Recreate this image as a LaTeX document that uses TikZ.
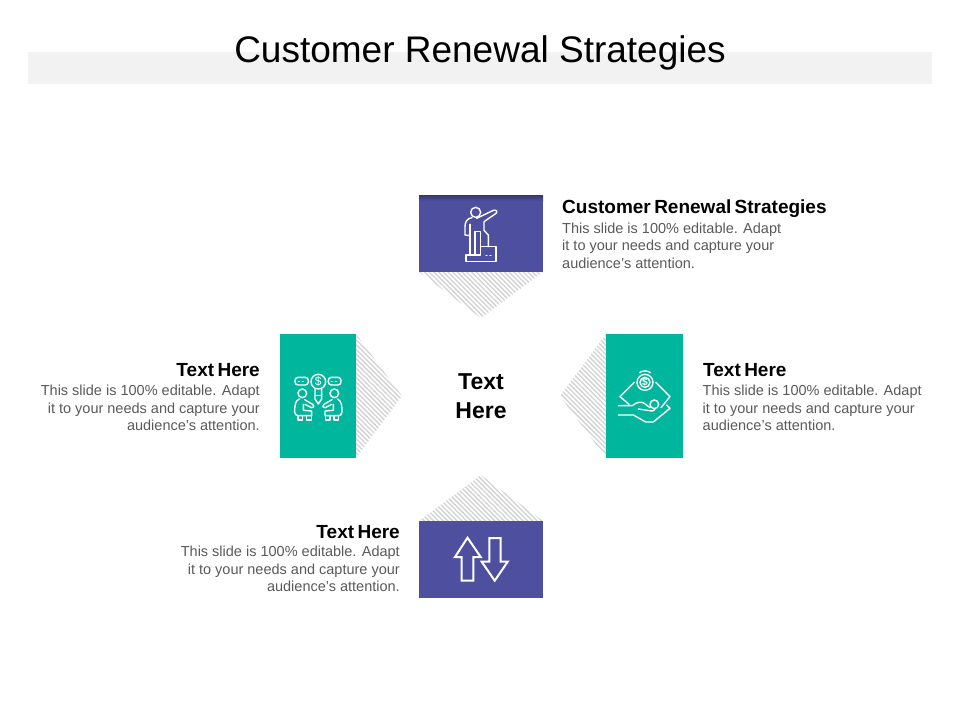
\documentclass[tikz,border=0pt]{standalone}
\usepackage{fontspec}
\setmainfont{Liberation Sans}
\usetikzlibrary{positioning}
\definecolor{bandgray}{HTML}{F2F2F2}
\definecolor{boxblue}{HTML}{4E4F9F}
\definecolor{boxgreen}{HTML}{00B69D}
\definecolor{hatchgray}{HTML}{D2D2D2}
\definecolor{bodygray}{HTML}{595959}
\newcommand{\headfont}{\fontsize{19}{21}\selectfont\bfseries\spaceskip 3.4pt\relax}
\newcommand{\seatedman}{%
    \draw[iconline] (97,205) circle (13);
    \draw[iconline] (88,222)..controls (76,228) and (74,238)..(74,262)..controls (74,270) and (80,272)..(90,272)--(125,272)--(125,258)--(100,256)--(100,238);
    \draw[iconline] (104,224)--(128,238)..controls (134,244) and (130,250)..(124,248)--(105,238);
    \draw[iconline] (84,272)--(84,285)--(98,285)--(98,272);
    \draw[iconline] (110,272)--(110,285)--(124,285)--(124,272);
}
\tikzset{
    headtext/.style={inner sep=0pt,font=\headfont},
    bodytext/.style={inner sep=0pt,text=bodygray,font=\fontsize{14.5}{17.6}\selectfont},
    iconline/.style={draw=white,line width=1.4pt,line join=round,line cap=round},
    arrowline/.style={draw=white,line width=2pt,line join=miter},
    hatchline/.style={draw=hatchgray,line width=1.3pt},
    zoomed/.style={x=0.3333pt,y=-0.3333pt}
}
\begin{document}
\begin{tikzpicture}[x=1pt,y=-1pt]
    \useasboundingbox (0,0) rectangle (960,720);
    \fill[bandgray] (28,52) rectangle (932,84);
    \node (title) at (480,52.5) {\fontsize{37}{40}\selectfont Customer Renewal Strategies};
    % hatched triangles
    \foreach \ax/\ay/\bx/\by/\cx/\cy in {419/272/543/272/481/318,356/334/356/458/402/396,606/334/606/458/560/396,419/521/543/521/481/475}{
        \begin{scope}
            \clip (\ax,\ay)--(\bx,\by)--(\cx,\cy)--cycle;
            \foreach \i in {0,...,170}
                \draw[hatchline] (\i*4.7-100,100)--(\i*4.7+500,700);
        \end{scope}
    }
    % boxes
    \fill[boxblue] (419,195) rectangle (543,272);
    \shade[top color=boxblue!70!black,bottom color=boxblue] (419,195) rectangle (543,201);
    \fill[boxgreen] (280,334) rectangle (356,458);
    \fill[boxgreen] (606,334) rectangle (683,458);
    \fill[boxblue] (419,521) rectangle (543,598);
    % center
    \node[align=center,font=\fontsize{23}{29}\selectfont\bfseries] (center) at (481,396) {Text\\Here};
    % labels
    \node[headtext,anchor=north west] (head1) at (562,200) {Customer Renewal Strategies};
    \node[bodytext,align=left,anchor=north west] (body1) at (562,222.5) {This slide is 100\% editable. Adapt\\it to your needs and capture your\\audience's attention.};
    \node[headtext,anchor=north west] (head2) at (703,363) {Text Here};
    \node[bodytext,align=left,anchor=north west] (body2) at (702.5,385) {This slide is 100\% editable. Adapt\\it to your needs and capture your\\audience's attention.};
    \node[headtext,anchor=north east] (head3) at (260,363) {Text Here};
    \node[bodytext,align=right,anchor=north east] (body3) at (260,385) {This slide is 100\% editable. Adapt\\it to your needs and capture your\\audience's attention.};
    \node[headtext,anchor=north east] (head4) at (400,525) {Text Here};
    \node[bodytext,align=right,anchor=north east] (body4) at (400,546) {This slide is 100\% editable. Adapt\\it to your needs and capture your\\audience's attention.};
    % climbing man
    \begin{scope}[shift={(410,185)},zoomed]
        \draw[iconline] (197,82) circle (15);
        \draw[iconline] (200,100)--(250,76)..controls (262,72) and (264,84)..(254,88)--(222,110)--(222,136)--(235,150)--(235,185);
        \draw[iconline] (186,98)..controls (170,100) and (165,112)..(165,125)--(165,150)--(180,152);
        \draw[iconline] (180,118)--(180,210);
        \draw[iconline] (195,140)--(195,210);
        \draw[iconline] (195,140)--(212,140)--(212,185);
        \draw[iconline] (212,185)--(258,185)--(258,229)--(168,229)--(168,210)--(212,210)--(212,185);
        \draw[iconline,dash pattern=on 1pt off 3pt] (228,212)--(248,212);
    \end{scope}
    % two men with a bulb
    \begin{scope}[shift={(270,325)},zoomed]
        \draw[iconline,rounded corners=3pt] (75,157) rectangle (115,180);
        \draw[iconline,rounded corners=3pt] (175,157) rectangle (213,180);
        \draw[iconline,dash pattern=on 1pt off 3pt] (85,169)--(106,169);
        \draw[iconline,dash pattern=on 1pt off 3pt] (184,169)--(205,169);
        \draw[iconline] (145,170) circle (22);
        \node[text=white,inner sep=0pt,font=\fontsize{12}{12}\selectfont] (dollarbulb) at (145,170) {\$};
        \draw[iconline] (135,192)--(135,222)--(145,237)--(155,222)--(155,192);
        \draw[iconline] (135,212)--(155,212);
        \seatedman
        \begin{scope}[xshift=96.67pt,xscale=-1]
            \seatedman
        \end{scope}
    \end{scope}
    % hand with money
    \begin{scope}[shift={(555,325)},zoomed]
        \draw[iconline] (270,172) circle (24);
        \draw[iconline] (270,172) circle (15);
        \node[text=white,inner sep=0pt,font=\fontsize{10}{10}\selectfont\bfseries] (dollarcoin) at (270,172) {\$};
        \draw[iconline] (254,143)..controls (262,136) and (278,136)..(286,143);
        \draw[iconline] (238,172)--(195,215)--(222,238);
        \draw[iconline] (302,172)--(345,215)--(318,248);
        \draw[iconline] (298,238) circle (13);
        \draw[iconline] (190,242)--(232,242)..controls (245,230) and (262,228)..(272,238)--(285,248);
        \draw[iconline] (250,252)--(290,258)..controls (300,258) and (300,250)..(300,250);
        \draw[iconline] (190,270)--(235,270)--(272,291)--(295,291)--(345,250)--(335,240);
    \end{scope}
    % arrows icon
    \draw[arrowline] (473.3,580.5)--(473.3,557)--(480.7,557)--(467.5,537.7)--(455,557)--(461.7,557)--(461.7,580.5)--cycle;
    \draw[arrowline] (489.3,538)--(489.3,561.7)--(481.7,561.7)--(494.7,580.7)--(507.7,561.7)--(500.7,561.7)--(500.7,538)--cycle;
\end{tikzpicture}
\end{document}
